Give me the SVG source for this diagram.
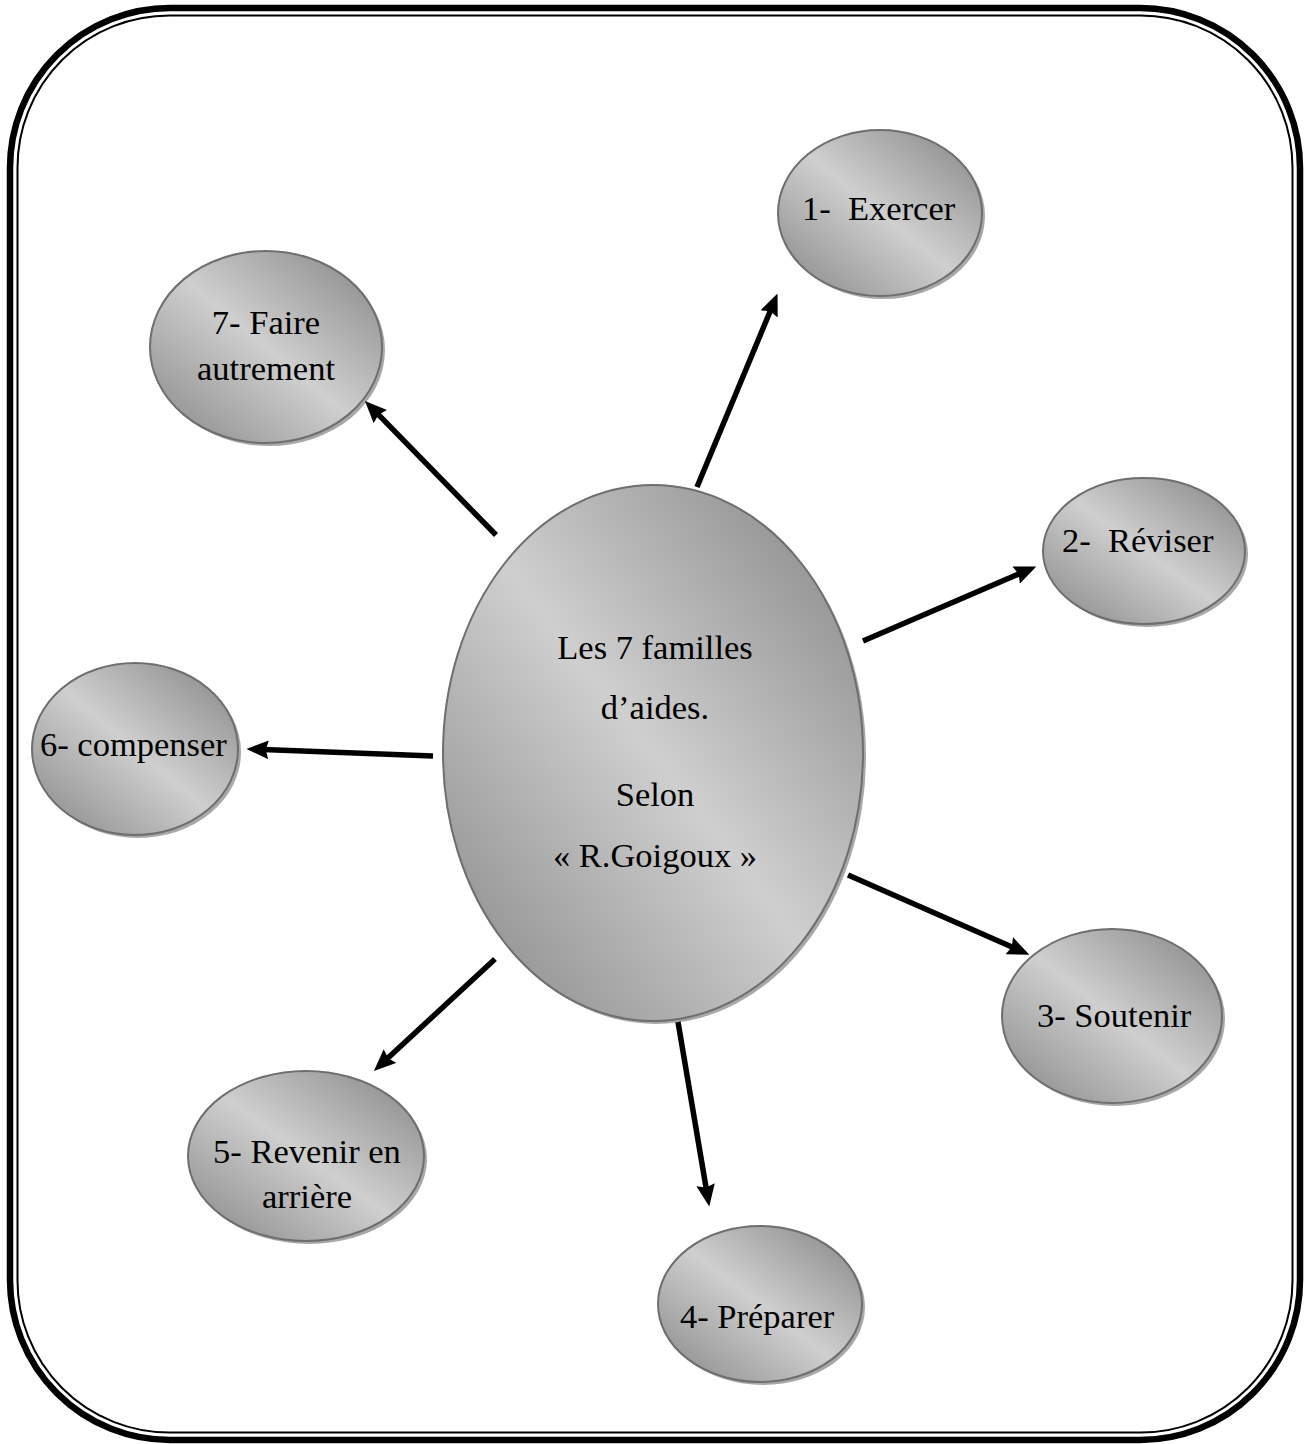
<svg xmlns="http://www.w3.org/2000/svg" width="1307" height="1444" viewBox="0 0 1307 1444">
<defs>
<linearGradient id="g" x1="1" y1="0" x2="0" y2="1">
<stop offset="0" stop-color="#838383"/>
<stop offset="0.5" stop-color="#cfcfcf"/>
<stop offset="1" stop-color="#858585"/>
</linearGradient>
<marker id="ah" viewBox="0 0 4 3.4" refX="1" refY="1.7" markerWidth="4" markerHeight="3.4" orient="auto" markerUnits="strokeWidth">
<path d="M0,0 L4,1.7 L0,3.4 L0.5,1.7 z" fill="#000"/>
</marker>
<style>
.sh{fill:#a8a8a8;}
.nd{fill:url(#g);stroke:#6e6e6e;stroke-width:2;}
.t{font-family:"Liberation Serif","Times New Roman",serif;font-size:34.5px;fill:#000;}
.c{text-anchor:middle;}
.ar{stroke:#000;stroke-width:5.5;fill:none;marker-end:url(#ah);}
</style>
</defs>
<rect width="1307" height="1444" fill="#fff"/>
<g id="frame" fill="none" stroke="#000">
<rect x="10" y="8" width="1290" height="1432" rx="160" ry="160" stroke-width="6.5"/>
<rect x="17.5" y="15.5" width="1275" height="1417" rx="152" ry="152" stroke-width="2"/>
</g>
<g id="center">
<ellipse class="sh" cx="656" cy="756" rx="210" ry="268"/>
<ellipse class="nd" cx="653" cy="753" rx="210" ry="268"/>
<text class="t c" x="655" y="659">Les 7 familles</text>
<text class="t c" x="655" y="719">d’aides.</text>
<text class="t c" x="655" y="806">Selon</text>
<text class="t c" x="655" y="867">« R.Goigoux »</text>
</g>
<g id="n1">
<ellipse class="sh" cx="883" cy="216" rx="102" ry="83"/>
<ellipse class="nd" cx="880" cy="213" rx="102" ry="83"/>
<text class="t" x="802" y="220" xml:space="preserve">1-  Exercer</text>
</g>
<g id="n2">
<ellipse class="sh" cx="1147" cy="554" rx="101" ry="73"/>
<ellipse class="nd" cx="1144" cy="551" rx="101" ry="73"/>
<text class="t" x="1062" y="552" xml:space="preserve">2-  Réviser</text>
</g>
<g id="n3">
<ellipse class="sh" cx="1115" cy="1019" rx="110" ry="87"/>
<ellipse class="nd" cx="1112" cy="1016" rx="110" ry="87"/>
<text class="t" x="1037" y="1027">3- Soutenir</text>
</g>
<g id="n4">
<ellipse class="sh" cx="763" cy="1307" rx="102" ry="78"/>
<ellipse class="nd" cx="760" cy="1304" rx="102" ry="78"/>
<text class="t" x="680" y="1328">4- Préparer</text>
</g>
<g id="n5">
<ellipse class="sh" cx="309" cy="1159" rx="118" ry="85"/>
<ellipse class="nd" cx="306" cy="1156" rx="118" ry="85"/>
<text class="t c" x="307" y="1163">5- Revenir en</text>
<text class="t c" x="307" y="1208">arrière</text>
</g>
<g id="n6">
<ellipse class="sh" cx="138" cy="752" rx="103" ry="86"/>
<ellipse class="nd" cx="135" cy="749" rx="103" ry="86"/>
<text class="t" x="40" y="756">6- compenser</text>
</g>
<g id="n7">
<ellipse class="sh" cx="269" cy="350" rx="116" ry="96"/>
<ellipse class="nd" cx="266" cy="347" rx="116" ry="96"/>
<text class="t c" x="266" y="334">7- Faire</text>
<text class="t c" x="266" y="380">autrement</text>
</g>
<g id="connectors">
<line class="ar" x1="697" y1="487" x2="771.2" y2="308.8"/>
<line class="ar" x1="863" y1="641" x2="1021.2" y2="572.9"/>
<line class="ar" x1="848" y1="875" x2="1014.3" y2="948"/>
<line class="ar" x1="678" y1="1022" x2="706.5" y2="1190.2"/>
<line class="ar" x1="495" y1="959" x2="386" y2="1059.8"/>
<line class="ar" x1="433" y1="756" x2="263" y2="749.6"/>
<line class="ar" x1="496" y1="535" x2="376.5" y2="412.7"/>
</g>
</svg>
